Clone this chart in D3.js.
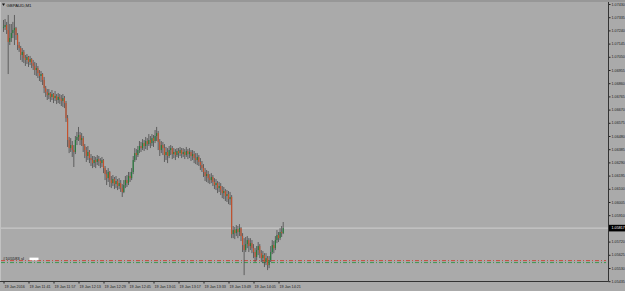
<!DOCTYPE html>
<html><head><meta charset="utf-8">
<script src="https://cdn.jsdelivr.net/npm/d3@7"></script>
<style>html,body{margin:0;padding:0;background:#aaaaaa;overflow:hidden}svg{display:block}</style>
</head><body><svg id="c" width="625" height="291"></svg>
<script>
// ---- data (M1 bars, 19 Jan 2016 11:25 .. 14:24) ----
const symbolTitle = "GBPAUD,M1";
const firstOpen = 1.07257;
const close = [
1.07265,1.07279,1.07243,1.07157,1.07185,1.07221,1.07243,1.07257,1.07207,1.07135,
1.07113,1.07063,1.07085,1.07041,1.07027,1.07049,1.07013,1.07034,1.07005,1.06984,
1.06955,1.06969,1.06933,1.06912,1.06926,1.06883,1.06825,1.06797,1.06775,1.06789,
1.06761,1.06782,1.06753,1.06768,1.06739,1.06761,1.06746,1.06732,1.06753,1.06717,
1.06609,1.06451,1.06393,1.06415,1.06379,1.06365,1.06451,1.06473,1.06487,1.06451,
1.06465,1.06408,1.06379,1.06336,1.06365,1.06321,1.06307,1.06285,1.06307,1.06293,
1.06314,1.06300,1.06285,1.06307,1.06249,1.06206,1.06177,1.06221,1.06163,1.06141,
1.06170,1.06134,1.06156,1.06120,1.06141,1.06105,1.06077,1.06127,1.06163,1.06141,
1.06192,1.06177,1.06221,1.06307,1.06357,1.06343,1.06379,1.06408,1.06393,1.06429,
1.06408,1.06444,1.06422,1.06451,1.06429,1.06465,1.06444,1.06480,1.06501,1.06437,
1.06379,1.06415,1.06393,1.06343,1.06365,1.06336,1.06379,1.06393,1.06350,1.06365,
1.06343,1.06372,1.06357,1.06379,1.06350,1.06365,1.06343,1.06372,1.06350,1.06365,
1.06336,1.06350,1.06321,1.06307,1.06329,1.06293,1.06271,1.06249,1.06221,1.06192,
1.06206,1.06177,1.06163,1.06185,1.06149,1.06127,1.06141,1.06105,1.06120,1.06091,
1.06069,1.06084,1.06048,1.06062,1.06026,1.06041,1.05774,1.05803,1.05781,1.05810,
1.05789,1.05817,1.05760,1.05695,1.05659,1.05702,1.05731,1.05688,1.05709,1.05673,
1.05645,1.05609,1.05659,1.05688,1.05637,1.05601,1.05623,1.05573,1.05601,1.05551,
1.05587,1.05645,1.05695,1.05673,1.05731,1.05767,1.05745,1.05789,1.05781,1.05817];
const high = [
1.07315,1.07322,1.07301,1.07351,1.07286,1.07286,1.07301,1.07351,1.07265,1.07221,
1.07157,1.07128,1.07113,1.07099,1.07063,1.07070,1.07056,1.07056,1.07041,1.07027,
1.07013,1.07005,1.06984,1.06955,1.06948,1.06933,1.06905,1.06840,1.06818,1.06818,
1.06797,1.06811,1.06789,1.06804,1.06782,1.06789,1.06782,1.06775,1.06782,1.06768,
1.06732,1.06631,1.06473,1.06465,1.06444,1.06415,1.06480,1.06509,1.06545,1.06509,
1.06501,1.06480,1.06422,1.06401,1.06408,1.06379,1.06350,1.06336,1.06336,1.06329,
1.06343,1.06336,1.06321,1.06329,1.06314,1.06264,1.06235,1.06249,1.06228,1.06192,
1.06199,1.06185,1.06192,1.06170,1.06177,1.06163,1.06134,1.06163,1.06192,1.06199,
1.06221,1.06221,1.06249,1.06336,1.06393,1.06386,1.06408,1.06444,1.06437,1.06458,
1.06451,1.06473,1.06465,1.06494,1.06480,1.06494,1.06487,1.06523,1.06545,1.06516,
1.06458,1.06444,1.06437,1.06422,1.06401,1.06393,1.06408,1.06415,1.06408,1.06393,
1.06386,1.06393,1.06393,1.06401,1.06393,1.06393,1.06386,1.06401,1.06386,1.06393,
1.06379,1.06379,1.06372,1.06357,1.06357,1.06343,1.06321,1.06300,1.06278,1.06249,
1.06235,1.06228,1.06206,1.06213,1.06199,1.06177,1.06170,1.06156,1.06149,1.06141,
1.06120,1.06113,1.06098,1.06091,1.06084,1.06077,1.06055,1.05832,1.05825,1.05839,
1.05832,1.05846,1.05825,1.05781,1.05745,1.05753,1.05760,1.05745,1.05745,1.05731,
1.05702,1.05673,1.05688,1.05717,1.05702,1.05659,1.05652,1.05637,1.05637,1.05616,
1.05616,1.05688,1.05731,1.05724,1.05760,1.05803,1.05789,1.05817,1.05832,1.05861];
const low = [
1.07229,1.07243,1.07214,1.06926,1.07135,1.07157,1.07185,1.07135,1.07171,1.07099,
1.07085,1.07027,1.07013,1.07005,1.06984,1.06998,1.06977,1.06991,1.06969,1.06955,
1.06919,1.06912,1.06897,1.06876,1.06869,1.06847,1.06789,1.06761,1.06739,1.06746,
1.06725,1.06739,1.06717,1.06732,1.06710,1.06717,1.06710,1.06696,1.06689,1.06681,
1.06581,1.06401,1.06357,1.06365,1.06329,1.06257,1.06350,1.06415,1.06444,1.06415,
1.06408,1.06365,1.06321,1.06293,1.06307,1.06285,1.06264,1.06249,1.06257,1.06249,
1.06271,1.06264,1.06249,1.06257,1.06213,1.06163,1.06127,1.06149,1.06113,1.06105,
1.06120,1.06098,1.06105,1.06091,1.06098,1.06077,1.06041,1.06069,1.06105,1.06113,
1.06127,1.06149,1.06163,1.06206,1.06293,1.06307,1.06329,1.06357,1.06365,1.06379,
1.06372,1.06386,1.06379,1.06408,1.06393,1.06408,1.06401,1.06429,1.06444,1.06379,
1.06336,1.06357,1.06343,1.06293,1.06307,1.06285,1.06321,1.06343,1.06314,1.06321,
1.06307,1.06329,1.06321,1.06336,1.06321,1.06329,1.06314,1.06329,1.06314,1.06321,
1.06300,1.06307,1.06285,1.06278,1.06271,1.06264,1.06235,1.06221,1.06185,1.06156,
1.06149,1.06141,1.06134,1.06141,1.06120,1.06098,1.06091,1.06069,1.06077,1.06055,
1.06033,1.06026,1.06012,1.06005,1.05990,1.05983,1.05745,1.05745,1.05738,1.05760,
1.05745,1.05760,1.05724,1.05645,1.05479,1.05645,1.05673,1.05645,1.05659,1.05637,
1.05601,1.05573,1.05587,1.05623,1.05601,1.05573,1.05565,1.05537,1.05551,1.05515,
1.05529,1.05573,1.05630,1.05637,1.05659,1.05709,1.05717,1.05731,1.05753,1.05774];
const timeLabels = ["19 Jan 2016","19 Jan 11:41","19 Jan 11:57","19 Jan 12:13","19 Jan 12:29","19 Jan 12:45",
  "19 Jan 13:01","19 Jan 13:17","19 Jan 13:33","19 Jan 13:49","19 Jan 14:05","19 Jan 14:21"];
const timeLabelBars = [0,16,32,48,64,80,96,112,128,144,160,176];
const priceTicks = [1.07430,1.07335,1.07240,1.07145,1.07050,1.06955,1.06860,1.06765,1.06670,1.06575,1.06480,
  1.06385,1.06290,1.06195,1.06100,1.06005,1.05910,1.05815,1.05720,1.05625,1.05530,1.05435];
const currentPrice = 1.05817;
const levelLines = [1.05583, 1.05569];
const levelColors = ["#c9483a", "#3f9a55"];
const levelLabel = "#105583 sl";

// ---- drawing ----
const W = 625, H = 291, plotR = 608.5, plotB = 281.5;
const svg = d3.select("#c");
const font = "'Liberation Sans', Arial, sans-serif";
const open = close.map((c, i) => i === 0 ? firstOpen : close[i - 1]); // M1: open = previous close

const x = d3.scaleLinear().domain([0, close.length - 1]).range([3.5, 283.2]);
const y = d3.scaleLinear().domain([1.05435, 1.07430]).range([281.2, 4]);

svg.append("rect").attr("width", W).attr("height", H).attr("fill", "#aaaaaa");
svg.append("rect").attr("width", W).attr("height", 2).attr("fill", "#979797");
svg.append("line").attr("x1", 0.5).attr("x2", 0.5).attr("y1", 2).attr("y2", plotB)
  .attr("stroke", "#c2c2c2").attr("stroke-width", 1);

// level (dash-dot) lines
levelLines.forEach((p, k) => {
  svg.append("line").attr("x1", 1).attr("x2", 606).attr("y1", y(p)).attr("y2", y(p))
    .attr("stroke", levelColors[k]).attr("stroke-width", 1)
    .attr("stroke-dasharray", "4 2 1 2");
});
svg.append("text").attr("x", 3).attr("y", y(levelLines[0]) - 0.6)
  .attr("font-family", font).attr("font-size", 4.3).attr("fill", "#151515").text(levelLabel);
svg.append("rect").attr("x", 29.5).attr("y", y(levelLines[0]) - 3).attr("width", 9).attr("height", 2.6)
  .attr("fill", "#ffffff");

// current price line
svg.append("line").attr("x1", 1).attr("x2", plotR).attr("y1", y(currentPrice)).attr("y2", y(currentPrice))
  .attr("stroke", "#cfcfcf").attr("stroke-width", 1);

// candles
const g = svg.append("g");
const bars = d3.range(close.length);
g.selectAll("line.w").data(bars).join("line").attr("class", "w")
  .attr("x1", i => x(i)).attr("x2", i => x(i))
  .attr("y1", i => y(Math.max(high[i], open[i], close[i])))
  .attr("y2", i => y(Math.min(low[i], open[i], close[i])))
  .attr("stroke", "#4a4a4a").attr("stroke-width", 0.8);
g.selectAll("rect.b").data(bars).join("rect").attr("class", "b")
  .attr("x", i => x(i) - 0.55).attr("width", 1.1)
  .attr("y", i => y(Math.max(open[i], close[i])))
  .attr("height", i => Math.max(0.8, Math.abs(y(open[i]) - y(close[i]))))
  .attr("fill", i => close[i] >= open[i] ? "#237d3a" : "#c8512c");

// right price axis
const ay = svg.append("g").attr("transform", `translate(${plotR},0)`)
  .call(d3.axisRight(y).tickValues(priceTicks).tickSize(2).tickPadding(1).tickFormat(d3.format(".5f")));
ay.select(".domain").remove();
ay.selectAll("line").attr("stroke", "#222");
ay.selectAll("text").attr("font-family", font).attr("font-size", 3.7).attr("fill", "#1c1c1c");
svg.append("line").attr("x1", plotR).attr("x2", plotR).attr("y1", 2).attr("y2", plotB)
  .attr("stroke", "#333").attr("stroke-width", 1);

// current price label
const cy = y(currentPrice);
svg.append("rect").attr("x", plotR + 0.5).attr("y", cy - 3.3).attr("width", 16.5).attr("height", 6.6).attr("fill", "#000");
svg.append("text").attr("x", plotR + 3).attr("y", cy + 1.3).attr("font-family", font)
  .attr("font-size", 3.7).attr("fill", "#fff").text(d3.format(".5f")(currentPrice));

// bottom time axis
const ax = svg.append("g").attr("transform", `translate(0,${plotB})`)
  .call(d3.axisBottom(x).tickValues(timeLabelBars).tickSize(2).tickPadding(1)
    .tickFormat((d, i) => timeLabels[i]));
ax.select(".domain").remove();
ax.selectAll("line").attr("stroke", "#222");
ax.selectAll("text").attr("font-family", font).attr("font-size", 3.7).attr("fill", "#1c1c1c")
  .attr("text-anchor", "start").attr("dx", 0.5).attr("dy", "0.9em");
svg.append("line").attr("x1", 0).attr("x2", plotR).attr("y1", plotB).attr("y2", plotB)
  .attr("stroke", "#333").attr("stroke-width", 1);

// title
svg.append("path").attr("d", "M2,3.5 L5,3.5 L3.5,6 Z").attr("fill", "#111");
svg.append("text").attr("x", 6.5).attr("y", 6.6).attr("font-family", font).attr("font-size", 4.3)
  .attr("fill", "#111").text(symbolTitle);
</script></body></html>
